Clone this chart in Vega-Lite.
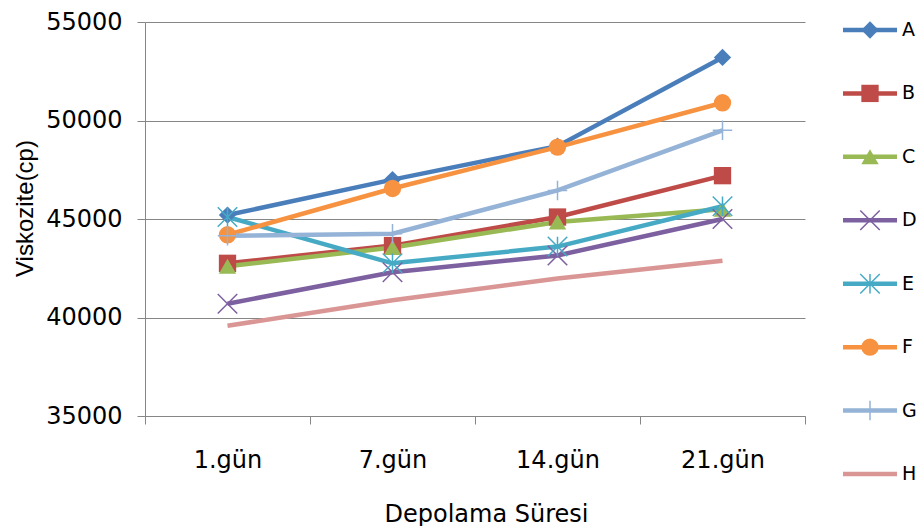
{
  "$schema": "https://vega.github.io/schema/vega-lite/v6.json",
  "background": "white",
  "padding": {"left": 13, "top": 10, "right": 0, "bottom": 0},
  "spacing": 34,
  "config": {
    "view": {"stroke": null},
    "font": "DejaVu Sans",
    "axis": {"labelColor": "#000000", "titleColor": "#000000", "titleFontWeight": "normal"}
  },
  "datasets": {
    "vals": [
      {"series": "A", "gun": "1.gün", "value": 45200},
      {"series": "A", "gun": "7.gün", "value": 47000},
      {"series": "A", "gun": "14.gün", "value": 48700},
      {"series": "A", "gun": "21.gün", "value": 53200},
      {"series": "B", "gun": "1.gün", "value": 42750},
      {"series": "B", "gun": "7.gün", "value": 43650},
      {"series": "B", "gun": "14.gün", "value": 45100},
      {"series": "B", "gun": "21.gün", "value": 47200},
      {"series": "C", "gun": "1.gün", "value": 42600},
      {"series": "C", "gun": "7.gün", "value": 43550},
      {"series": "C", "gun": "14.gün", "value": 44850},
      {"series": "C", "gun": "21.gün", "value": 45500},
      {"series": "D", "gun": "1.gün", "value": 40700},
      {"series": "D", "gun": "7.gün", "value": 42300},
      {"series": "D", "gun": "14.gün", "value": 43150},
      {"series": "D", "gun": "21.gün", "value": 45000},
      {"series": "E", "gun": "1.gün", "value": 45100},
      {"series": "E", "gun": "7.gün", "value": 42750},
      {"series": "E", "gun": "14.gün", "value": 43600},
      {"series": "E", "gun": "21.gün", "value": 45650},
      {"series": "F", "gun": "1.gün", "value": 44200},
      {"series": "F", "gun": "7.gün", "value": 46550},
      {"series": "F", "gun": "14.gün", "value": 48650},
      {"series": "F", "gun": "21.gün", "value": 50900},
      {"series": "G", "gun": "1.gün", "value": 44150},
      {"series": "G", "gun": "7.gün", "value": 44250},
      {"series": "G", "gun": "14.gün", "value": 46450},
      {"series": "G", "gun": "21.gün", "value": 49500},
      {"series": "H", "gun": "1.gün", "value": 39580},
      {"series": "H", "gun": "7.gün", "value": 40880},
      {"series": "H", "gun": "14.gün", "value": 41980},
      {"series": "H", "gun": "21.gün", "value": 42880}
    ],
    "series": [
      {"series": "A"}, {"series": "B"}, {"series": "C"}, {"series": "D"},
      {"series": "E"}, {"series": "F"}, {"series": "G"}, {"series": "H"}
    ]
  },
  "hconcat": [
    {
      "width": 660,
      "height": 394,
      "data": {"name": "vals"},
      "encoding": {
        "x": {
          "field": "gun", "type": "nominal",
          "sort": ["1.gün", "7.gün", "14.gün", "21.gün"],
          "scale": {"type": "band", "paddingInner": 0, "paddingOuter": 0},
          "axis": {
            "title": "Depolama Süresi", "labelAngle": 0, "labelFontSize": 24,
            "tickBand": "extent", "tickSize": 8, "tickColor": "#868686",
            "domainColor": "#868686", "labelPadding": 24, "grid": false,
            "titleFontSize": 24, "titleY": 86, "titleBaseline": "top", "titleX": 341
          }
        },
        "y": {
          "field": "value", "type": "quantitative",
          "scale": {"domain": [35000, 55000], "nice": false, "zero": false},
          "axis": {
            "title": "Viskozite(cp)", "values": [35000, 40000, 45000, 50000, 55000],
            "format": "d", "labelFontSize": 24, "labelPadding": 15, "tickSize": 8,
            "tickColor": "#868686", "domainColor": "#868686", "gridColor": "#868686",
            "grid": true, "titleFont": "Liberation Sans", "titleFontSize": 24,
            "titleAngle": 270, "titleX": -113, "titleY": 186, "titleAlign": "center",
            "titleBaseline": "alphabetic"
          }
        },
        "color": {
          "field": "series", "type": "nominal",
          "scale": {
            "domain": ["A", "B", "C", "D", "E", "F", "G", "H"],
            "range": ["#4A7EBB", "#BE4B48", "#98B954", "#7D60A0", "#46AAC5", "#F69240", "#95B3D7", "#D99694"]
          },
          "legend": null
        }
      },
      "layer": [
        {"mark": {"type": "line", "strokeWidth": 4.5}},
        {
          "transform": [{"filter": {"field": "series", "oneOf": ["A", "B", "C", "F"]}}],
          "mark": {"type": "point", "filled": true, "opacity": 1, "size": 300},
          "encoding": {
            "shape": {
              "field": "series", "type": "nominal",
              "scale": {
                "domain": ["A", "B", "C", "D", "E", "F", "G", "H"],
                "range": ["diamond", "square", "triangle-up", "M-1,-1L1,1M-1,1L1,-1", "M-1,-1L1,1M-1,1L1,-1M0,-1L0,1", "circle", "M0,-1L0,1M-1,0L1,0", "circle"]
              },
              "legend": null
            }
          }
        },
        {
          "transform": [{"filter": {"field": "series", "oneOf": ["D", "E", "G"]}}],
          "mark": {"type": "point", "filled": false, "opacity": 1, "size": 380, "strokeWidth": 1.5},
          "encoding": {
            "shape": {"field": "series", "type": "nominal", "legend": null}
          }
        }
      ]
    },
    {
      "width": 78,
      "height": 460,
      "data": {"name": "series"},
      "encoding": {
        "y": {
          "field": "series", "type": "nominal",
          "scale": {"type": "point", "padding": 0.126},
          "axis": null
        },
        "color": {"field": "series", "type": "nominal", "legend": null}
      },
      "layer": [
        {
          "mark": {"type": "rule", "strokeWidth": 4.5},
          "encoding": {
            "x": {"datum": 0, "type": "quantitative", "scale": {"domain": [0, 78], "nice": false}, "axis": null},
            "x2": {"datum": 54}
          }
        },
        {
          "transform": [{"filter": {"field": "series", "oneOf": ["A", "B", "C", "F"]}}],
          "mark": {"type": "point", "filled": true, "opacity": 1, "size": 300},
          "encoding": {
            "x": {"datum": 27, "type": "quantitative"},
            "shape": {"field": "series", "type": "nominal", "legend": null}
          }
        },
        {
          "transform": [{"filter": {"field": "series", "oneOf": ["D", "E", "G"]}}],
          "mark": {"type": "point", "filled": false, "opacity": 1, "size": 380, "strokeWidth": 1.5},
          "encoding": {
            "x": {"datum": 27, "type": "quantitative"},
            "shape": {"field": "series", "type": "nominal", "legend": null}
          }
        },
        {
          "mark": {"type": "text", "align": "left", "baseline": "middle", "fontSize": 19, "color": "#000000"},
          "encoding": {
            "x": {"datum": 59, "type": "quantitative"},
            "text": {"field": "series"},
            "color": {"value": "#000000"}
          }
        }
      ]
    }
  ]
}
